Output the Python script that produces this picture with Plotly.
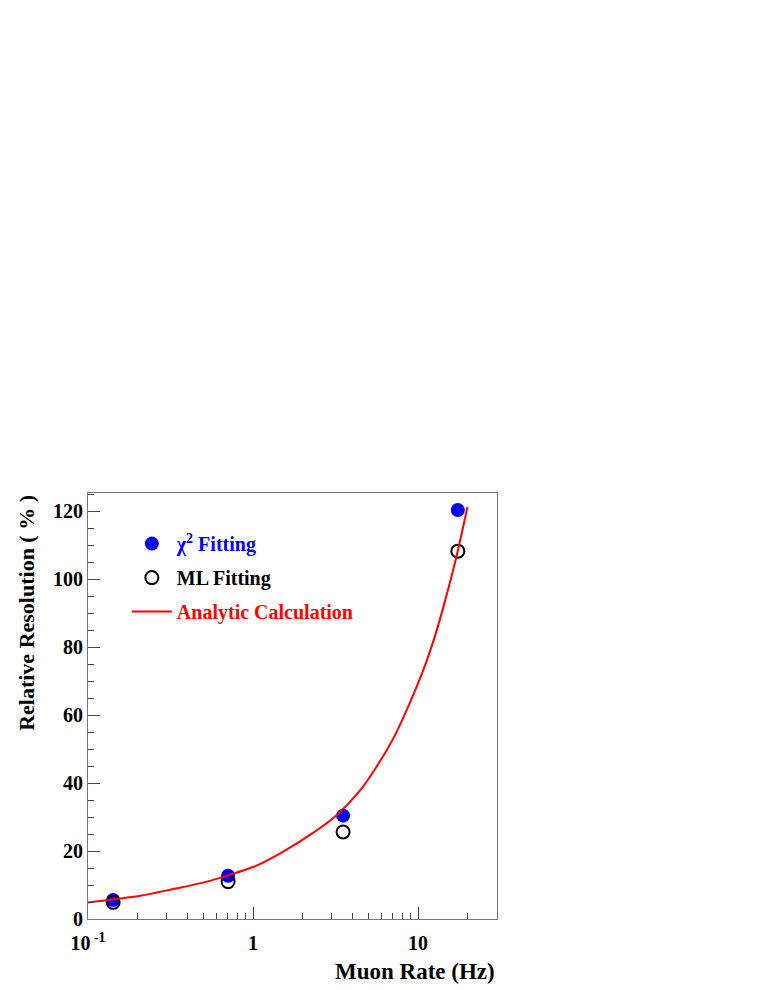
"""Relative resolution vs muon rate"""

import plotly.graph_objects as go

# data
rate_pts = [0.142, 0.706, 3.51, 17.4]
chi2_res = [5.6, 12.7, 30.4, 120.3]
ml_res = [4.9, 11.0, 25.6, 108.2]

curve_rate = [0.100, 0.141, 0.207, 0.329, 0.524, 0.709, 1.05, 1.46, 2.32,
              3.22, 4.45, 5.62, 7.09, 8.34, 10.8, 12.7, 14.6, 17.0, 19.9]
curve_res = [4.85, 5.74, 6.85, 8.82, 11.0, 12.9, 15.7, 19.3, 25.4,
             30.6, 37.8, 44.9, 53.2, 60.4, 73.5, 83.5, 93.8, 106.2, 121.2]

x_tickvals = [0.1, 1, 10]
x_ticktext = ['10<sup> -1</sup>', '1', '10']

font = 'Liberation Serif'

fig = go.Figure()

fig.add_trace(go.Scatter(
    x=rate_pts, y=chi2_res, mode='markers', legendgroup='a',
    name='<span style="color:#0000ff">χ<sup>2</sup> Fitting</span>',
    marker=dict(color='#0000ff', size=14, symbol='circle')))

fig.add_trace(go.Scatter(
    x=rate_pts, y=ml_res, mode='markers', legendgroup='b',
    name='ML Fitting',
    marker=dict(color='black', size=13, symbol='circle-open',
                line=dict(color='black', width=2))))

fig.add_trace(go.Scatter(
    x=curve_rate, y=curve_res, mode='lines', legendgroup='c',
    name='<span style="color:#ff0000">Analytic Calculation</span>',
    line=dict(color='#ff0000', width=2, shape='spline', smoothing=1.0)))

fig.update_layout(
    width=757, height=982,
    margin=dict(l=80, r=268, t=485, b=71),
    paper_bgcolor='white', plot_bgcolor='white',
    font=dict(family=font, size=19, color='black'),
    showlegend=True,
    legend=dict(x=0.095, y=0.927, xanchor='left', yanchor='top',
                bgcolor='rgba(0,0,0,0)',
                font=dict(family=font, size=20, weight='bold'),
                itemwidth=40, tracegroupgap=5),
)

fig.update_xaxes(
    type='log', range=[-1, 1.478],
    tickvals=x_tickvals, ticktext=x_ticktext,
    tickfont=dict(family=font, size=20, weight='bold'),
    ticks='inside', ticklen=12, tickcolor='#444', tickwidth=1,
    minor=dict(ticks='inside', ticklen=6, tickcolor='#444',
               tickvals=[0.2, 0.3, 0.4, 0.5, 0.6, 0.7, 0.8, 0.9,
                         2, 3, 4, 5, 6, 7, 8, 9, 20]),
    showline=True, linecolor='#777', linewidth=1, mirror=True,
    showgrid=False, zeroline=False, ticklabelstandoff=6)

fig.update_yaxes(
    range=[0, 125.3], dtick=20, tick0=0,
    tickfont=dict(family=font, size=20, weight='bold'),
    ticks='inside', ticklen=12, tickcolor='#444', tickwidth=1,
    minor=dict(ticks='inside', ticklen=6, tickcolor='#444', dtick=5),
    showline=True, linecolor='#777', linewidth=1, mirror=True,
    showgrid=False, zeroline=False, ticklabelstandoff=0)

fig.add_annotation(
    text='<b>Relative Resolution ( % )</b>', textangle=-90,
    xref='paper', yref='paper', x=-0.152, y=1.0,
    xanchor='center', yanchor='top', showarrow=False,
    font=dict(family=font, size=22))

fig.add_annotation(
    text='<b>Muon Rate (Hz)</b>',
    xref='paper', yref='paper', x=1.0, y=-0.124,
    xanchor='right', yanchor='middle', showarrow=False,
    font=dict(family=font, size=23))

fig.write_html("out.html")
